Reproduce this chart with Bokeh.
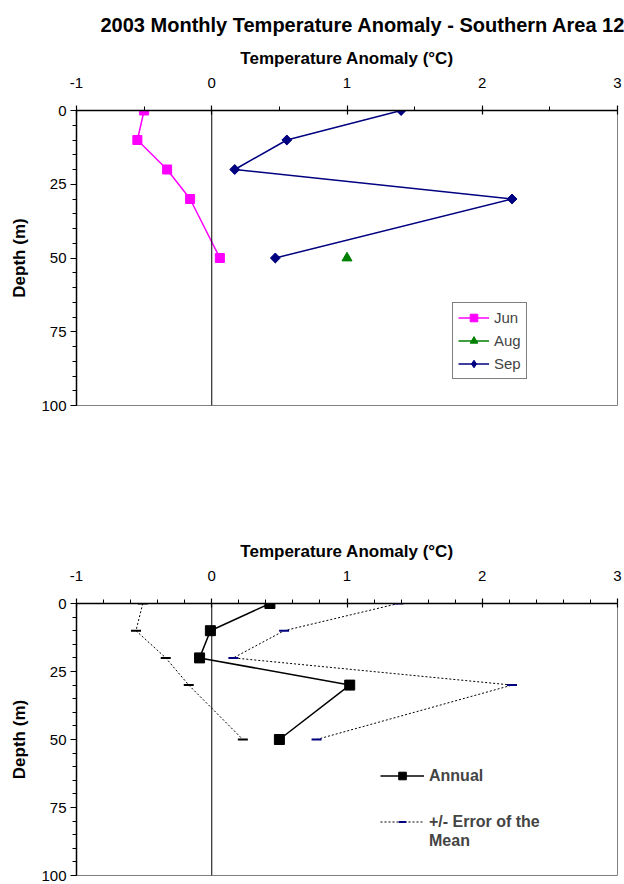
import numpy as np
from bokeh.plotting import figure
from bokeh.models import Range1d, FixedTicker, Span, Legend, LegendItem
from bokeh.layouts import column
from bokeh.embed import file_html
from bokeh.resources import INLINE

# ---- data ----
depth = [0, 10, 20, 30, 50]
jun = [-0.50, -0.55, -0.33, -0.16, 0.06]
sep = [1.40, 0.555, 0.17, 2.22, 0.47]
aug_depth = [50]
aug = [1.00]

annual = [0.43, -0.01, -0.09, 1.02, 0.50]
err_low = [-0.51, -0.56, -0.34, -0.17, 0.23]
err_high = [1.38, 0.535, 0.16, 2.22, 0.775]

x_ticks = [-1, 0, 1, 2, 3]
y_ticks = [0, 25, 50, 75, 100]
x_minor_top = [-0.5, 0.5, 1.5, 2.5]
x_minor_bottom = [round(-1 + 0.2 * i, 1) for i in range(21)]
y_minor = list(range(0, 101, 5))
title_text = "2003 Monthly Temperature Anomaly - Southern Area 12"
x_label = "Temperature Anomaly (°C)"
y_label = "Depth (m)"

FONT = "Liberation Sans"


def style(p, minor_x):
    p.outline_line_color = "#808080"
    p.outline_line_width = 1
    p.xgrid.visible = False
    p.ygrid.visible = False
    p.background_fill_color = "white"
    p.border_fill_color = "white"

    xa = p.xaxis[0]
    xa.ticker = FixedTicker(ticks=x_ticks, minor_ticks=minor_x)
    xa.major_label_overrides = {t: str(t) for t in x_ticks}
    xa.axis_label = x_label
    xa.axis_label_text_font = FONT
    xa.axis_label_text_font_size = "17px"
    xa.axis_label_text_font_style = "bold"
    xa.axis_label_text_color = "black"
    xa.axis_label_standoff = 7
    xa.major_label_text_font = FONT
    xa.major_label_text_font_size = "15px"
    xa.major_label_text_color = "black"
    xa.major_label_standoff = 18
    xa.axis_line_color = "black"
    xa.axis_line_width = 1.5
    xa.major_tick_line_color = "black"
    xa.major_tick_line_width = 1.2
    xa.major_tick_in = 4
    xa.major_tick_out = 5
    xa.minor_tick_line_color = "black"
    xa.minor_tick_line_width = 1
    xa.minor_tick_in = 0
    xa.minor_tick_out = 4

    ya = p.yaxis[0]
    ya.ticker = FixedTicker(ticks=y_ticks, minor_ticks=y_minor)
    ya.major_label_overrides = {t: str(t) for t in y_ticks}
    ya.axis_label = y_label
    ya.axis_label_text_font = FONT
    ya.axis_label_text_font_size = "17px"
    ya.axis_label_text_font_style = "bold"
    ya.axis_label_text_color = "black"
    ya.axis_label_standoff = 9
    ya.major_label_text_font = FONT
    ya.major_label_text_font_size = "15px"
    ya.major_label_text_color = "black"
    ya.major_label_standoff = 4
    ya.axis_line_color = "black"
    ya.axis_line_width = 1.5
    ya.major_tick_line_color = "black"
    ya.major_tick_line_width = 1.2
    ya.major_tick_in = 0
    ya.major_tick_out = 6
    ya.minor_tick_line_color = "black"
    ya.minor_tick_line_width = 1
    ya.minor_tick_in = 0
    ya.minor_tick_out = 4

    p.add_layout(Span(location=0, dimension="height", line_color="black", line_width=1))


# ---- top chart ----
p1 = figure(width=624, height=460, x_range=Range1d(-1, 3), y_range=Range1d(100, 0),
            x_axis_location="above", output_backend="svg", toolbar_location=None,
            min_border_top=110, min_border_bottom=55, min_border_left=76, min_border_right=7)
style(p1, x_minor_top)
p1.title.text = title_text
p1.title.text_font = FONT
p1.title.text_font_size = "20px"
p1.title.text_font_style = "bold"
p1.title.text_color = "black"
p1.title.align = "left"
p1.title.offset = 24
p1.title.standoff = 20

r_jun_l = p1.line(jun, depth, line_color="#FF00FF", line_width=1.5)
r_jun_m = p1.scatter(jun, depth, marker="square", size=9, fill_color="#FF00FF", line_color="#FF00FF")
r_aug_l = p1.line(aug, aug_depth, line_color="#008000", line_width=1.5)
r_aug_m = p1.scatter(aug, aug_depth, marker="triangle", size=10, fill_color="#008000", line_color="#008000")
r_sep_l = p1.line(sep, depth, line_color="#000080", line_width=1.5)
# diamond used as legend key (hidden beneath the rotated squares below)
r_sep_key = p1.scatter(sep, depth, marker="diamond", size=9,
                       fill_color="#000080", line_color="#000080")
r_sep_m = p1.scatter(sep, depth, marker="square", angle=np.pi / 4, size=7,
                     fill_color="#000080", line_color="#000080")

leg1 = Legend(items=[LegendItem(label="Jun", renderers=[r_jun_l, r_jun_m]),
                     LegendItem(label="Aug", renderers=[r_aug_l, r_aug_m]),
                     LegendItem(label="Sep", renderers=[r_sep_l, r_sep_key])],
              location=(376, 26), margin=0, padding=5, spacing=4,
              glyph_width=31, glyph_height=19, label_height=19, label_standoff=5,
              label_text_font=FONT, label_text_font_size="15px",
              border_line_color="black", border_line_width=1,
              background_fill_color="white", background_fill_alpha=1)
p1.add_layout(leg1, "center")

# ---- bottom chart ----
p2 = figure(width=624, height=424, x_range=Range1d(-1, 3), y_range=Range1d(100, 0),
            x_axis_location="above", output_backend="svg", toolbar_location=None,
            min_border_top=143, min_border_bottom=9, min_border_left=76, min_border_right=7)
style(p2, x_minor_bottom)

r_low_l = p2.line(err_low, depth, line_color="black", line_width=1, line_dash="2 2")
r_high_l = p2.line(err_high, depth, line_color="black", line_width=1, line_dash="2 2")
r_low_m = p2.scatter(err_low, depth, marker="dash", size=10, line_color="black", line_width=2)
r_high_m = p2.scatter(err_high, depth, marker="dash", size=10, line_color="#000080", line_width=2)
r_ann_l = p2.line(annual, depth, line_color="black", line_width=1.5)
r_ann_m = p2.scatter(annual, depth, marker="square", size=10, fill_color="black", line_color="black")
r_dummy = p2.line(x=[], y=[], line_alpha=0)

leg_a = Legend(items=[LegendItem(label="Annual", renderers=[r_ann_l, r_ann_m])],
               location=(304, 90), margin=0, padding=0, spacing=0,
               glyph_width=44, glyph_height=19, label_height=19, label_standoff=5,
               label_text_font=FONT, label_text_font_size="16px", label_text_font_style="bold",
               border_line_alpha=0, background_fill_alpha=0)
leg_b = Legend(items=[LegendItem(label="+/- Error of the", renderers=[r_high_l, r_high_m]),
                      LegendItem(label="Mean", renderers=[r_dummy])],
               location=(304, 25), margin=0, padding=0, spacing=0,
               glyph_width=44, glyph_height=19, label_height=19, label_standoff=5,
               label_text_font=FONT, label_text_font_size="16px", label_text_font_style="bold",
               border_line_alpha=0, background_fill_alpha=0)
p2.add_layout(leg_a, "center")
p2.add_layout(leg_b, "center")

layout = column(p1, p2)
open("out.html", "w").write(file_html(layout, INLINE))
